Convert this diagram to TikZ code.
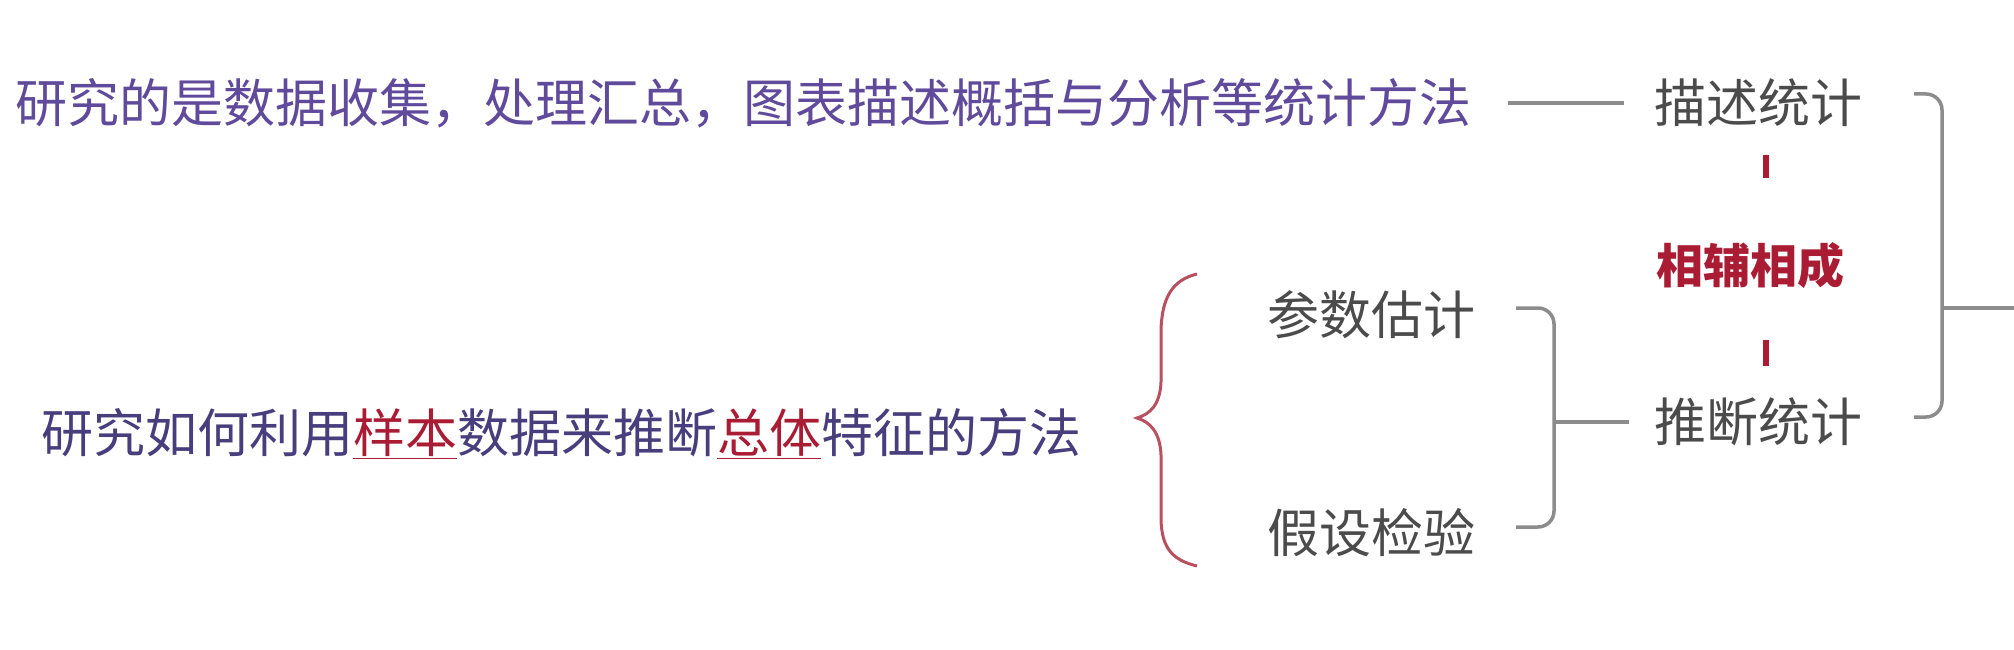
\documentclass[tikz,border=0pt]{standalone}
\usepackage{fontspec}
\newfontfamily\cjk{Noto Sans CJK SC}
\usetikzlibrary{calc}
\definecolor{ptxt}{RGB}{96,74,155}
\definecolor{btxt}{RGB}{72,62,125}
\definecolor{gtxt}{RGB}{75,75,75}
\definecolor{gline}{RGB}{140,140,140}
\definecolor{redt}{RGB}{170,28,52}
\definecolor{bracec}{RGB}{185,80,95}
\tikzset{
  txt/.style={inner sep=0pt, font=\cjk\fontsize{52}{60}\selectfont},
  graytxt/.style={txt, text=gtxt},
  conn/.style={draw=gline, line width=3.5pt},
  brk/.style={draw=gline, line width=3.5pt, rounded corners=16pt},
  reddash/.style={draw=redt, line width=5.5pt},
}
\newcommand{\redul}[1]{{\color{redt}\underline{#1}}}
\begin{document}
\begin{tikzpicture}[x=1pt,y=-1pt]
\useasboundingbox[fill=white] (0,0) rectangle (2014,650);
% texts
\node[txt, text=ptxt, anchor=west] (top) at (15,103) {研究的是数据收集，处理汇总，图表描述概括与分析等统计方法};
\node[graytxt] (ms) at (1758,103) {描述统计};
\node[graytxt] (td) at (1758,422) {推断统计};
\node[txt, text=redt, font=\cjk\bfseries\fontsize{47}{54}\selectfont] (xf) at (1750,266) {相辅相成};
\node[txt, text=btxt, anchor=west] (bot) at (41,434) {研究如何利用\redul{样本}数据来推断\redul{总体}特征的方法};
\node[graytxt] (cs) at (1371,315) {参数估计};
\node[graytxt] (jy) at (1371,533) {假设检验};
% connector top text -> 描述统计
\draw[conn] ($(top.east)+(37,0)$) -- ($(ms.west)+(-30,0)$);
% red dashes
\coordinate (d1a) at (1766,155); \coordinate (d1b) at (1766,178);
\coordinate (d2a) at (1766,340); \coordinate (d2b) at (1766,366);
\draw[reddash] (d1a) -- (d1b);
\draw[reddash] (d2a) -- (d2b);
% right bracket
\coordinate (rb1) at (1914,94);
\coordinate (rb2) at (1942,94);
\coordinate (rb3) at (1942,417);
\coordinate (rb4) at (1914,417);
\coordinate (rbm) at (1942,308);
\coordinate (rbe) at (2014,308);
\draw[brk] (rb1) -- (rb2) -- (rb3) -- (rb4);
\draw[conn] (rbm) -- (rbe);
% small bracket
\coordinate (sb1) at (1516,308);
\coordinate (sb2) at (1554,308);
\coordinate (sb3) at (1554,527);
\coordinate (sb4) at (1516,527);
\coordinate (sbm) at (1554,422);
\coordinate (sbe) at (1629,422);
\draw[brk] (sb1) -- (sb2) -- (sb3) -- (sb4);
\draw[conn] (sbm) -- (sbe);
% red brace
\draw[draw=bracec, line width=3pt]
  (1197,274) .. controls (1172,280) and (1162,298) .. (1161,330)
  -- (1161,382) .. controls (1160,405) and (1150,414) .. (1137,418)
  .. controls (1150,422) and (1160,432) .. (1161,455)
  -- (1161,520) .. controls (1162,548) and (1172,560) .. (1197,566);
\end{tikzpicture}
\end{document}
